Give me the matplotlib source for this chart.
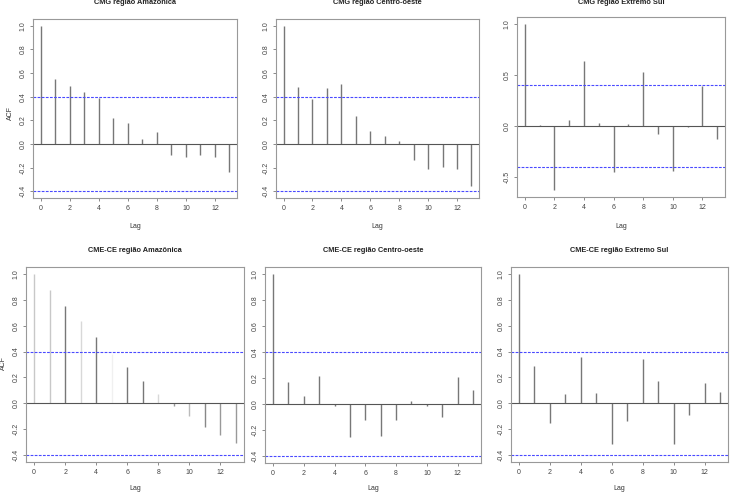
import matplotlib
matplotlib.use("Agg")
import matplotlib.pyplot as plt
import numpy as np

plt.rcParams['font.family'] = ['Liberation Sans', 'DejaVu Sans']

lags = list(range(14))

titles = [
    "CMG região Amazônica", "CMG região Centro-oeste", "CMG região Extremo Sul",
    "CME-CE região Amazônica", "CME-CE região Centro-oeste", "CME-CE região Extremo Sul",
]

acf_cmg_amazonica = [1.0, 0.545, 0.49, 0.44, 0.39, 0.22, 0.174, 0.04, 0.104,
                     -0.095, -0.11, -0.09, -0.107, -0.236]
acf_cmg_centro = [1.0, 0.48, 0.38, 0.475, 0.51, 0.236, 0.107, 0.07, 0.025,
                  -0.138, -0.21, -0.194, -0.208, -0.351]
acf_cmg_sul = [1.0, 0.005, -0.63, 0.055, 0.637, 0.033, -0.45, 0.016, 0.53,
               -0.078, -0.444, -0.01, 0.386, -0.124]
acf_cme_amazonica = [1.0, 0.876, 0.75, 0.637, 0.51, 0.38, 0.283, 0.175, 0.072,
                     -0.018, -0.103, -0.183, -0.25, -0.307]
acf_cme_centro = [1.0, 0.168, 0.062, 0.217, -0.02, -0.253, -0.124, -0.25, -0.127,
                  0.026, -0.02, -0.10, 0.209, 0.111]
acf_cme_sul = [1.0, 0.29, -0.155, 0.073, 0.355, 0.08, -0.32, -0.137, 0.34,
               0.171, -0.32, -0.093, 0.16, 0.09]

series = [acf_cmg_amazonica, acf_cmg_centro, acf_cmg_sul,
          acf_cme_amazonica, acf_cme_centro, acf_cme_sul]

conf_limit = 0.4

xticks = [0, 2, 4, 6, 8, 10, 12]
yticks_default = [-0.4, -0.2, 0.0, 0.2, 0.4, 0.6, 0.8, 1.0]
yticks_sul = [-0.5, 0.0, 0.5, 1.0]

W, H = 732, 500
fig = plt.figure(figsize=(W / 100, H / 100), dpi=100)
fig.patch.set_facecolor('white')

# pixel boxes: left, right, top, bottom
boxes = [
    (33, 237, 19, 198),
    (276, 479, 19, 198),
    (517, 725, 17, 197),
    (26, 244, 267, 462),
    (265, 481, 267, 463),
    (511, 728, 267, 462),
]

# faded spikes in the bottom-left panel (scan artefact)
spike_colors = {3: {0: '#c8c8c8', 1: '#c8c8c8', 3: '#d8d8d8', 5: '#f0f0f0', 8: '#d8d8d8',
                    9: '#999999', 10: '#bbbbbb', 11: '#888888', 12: '#999999', 13: '#999999'}}

ci_color = '#4a4aff'

for i, (vals, (l, r, t, b)) in enumerate(zip(series, boxes)):
    ax = fig.add_axes([l / W, 1 - b / H, (r - l) / W, (b - t) / H])
    vals = np.array(vals)
    cols = [spike_colors.get(i, {}).get(k, '#777777') for k in lags]
    ax.vlines(lags, 0, vals, colors=cols, lw=1.0)
    ax.axhline(0, color='#555555', lw=0.8)
    for sgn in (1, -1):
        ax.axhline(sgn * conf_limit, color=ci_color, lw=0.8, ls=(0, (2.5, 1.2)))
    lo = min(vals.min(), -conf_limit)
    hi = max(vals.max(), conf_limit)
    pad = 0.04 * (hi - lo)
    ax.set_ylim(lo - pad, hi + pad)
    ax.set_xlim(-0.52, 13.52)
    ax.set_xticks(xticks)
    yt = yticks_sul if i == 2 else yticks_default
    ax.set_yticks(yt)
    ax.set_yticklabels([f"{v:.1f}" for v in yt], rotation=90, va='center')
    ax.tick_params(direction='out', length=2.2, width=0.6, color='#777777',
                   labelsize=5, labelcolor='#444444', pad=2.5)
    for s in ax.spines.values():
        s.set_color('#999999')
        s.set_linewidth(0.8)
    cx = (l + r) / 2
    ty = 3 if i < 3 else 250
    fig.text(cx / W, 1 - ty / H, titles[i], ha='center', va='center',
             fontsize=5.3, fontweight='bold', color='#222222')
    ly = b + (29 if i < 3 else 26)
    fig.text(cx / W, 1 - ly / H, "Lag", ha='center', va='center',
             fontsize=5, color='#333333')

fig.text(10 / W, 1 - 113 / H, "ACF", rotation=90, ha='center', va='center',
         fontsize=5, color='#333333')
fig.text(3 / W, 1 - 363 / H, "ACF", rotation=90, ha='center', va='center',
         fontsize=5, color='#333333')

fig.savefig("out.png", dpi=100, facecolor='white')
